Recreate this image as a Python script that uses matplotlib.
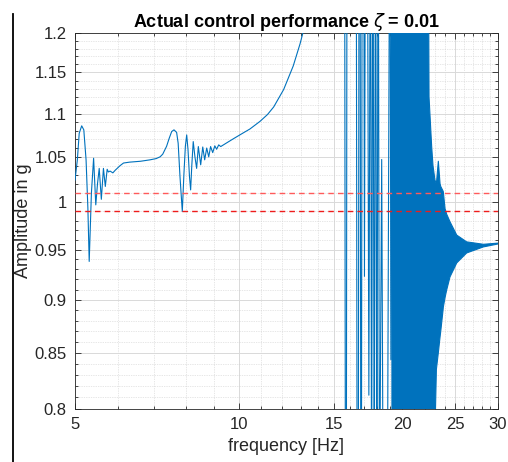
import numpy as np
import matplotlib
matplotlib.use("Agg")
import matplotlib.pyplot as plt
from matplotlib.ticker import NullFormatter
from matplotlib.lines import Line2D

plt.rcParams["font.family"] = ["Liberation Sans", "DejaVu Sans"]

# ── Data ─────────────────────────────────────────────────────────────────────
# measured response: smooth part + isolated spikes (values above 1.2 / below 0.8 are clipped)
freq = [5.00, 5.05, 5.09, 5.144, 5.19, 5.24, 5.28, 5.31, 5.36, 5.41,
        5.46, 5.50, 5.54, 5.59, 5.64, 5.685, 5.73, 5.76, 5.80, 5.87,
        5.93, 6.05, 6.14, 6.30, 6.60, 6.87, 7.05, 7.17, 7.25, 7.37,
        7.45, 7.53, 7.605, 7.69, 7.74, 7.80, 7.877, 7.93, 7.98, 8.025,
        8.07, 8.12, 8.16, 8.20, 8.25, 8.31, 8.37, 8.43, 8.515, 8.59,
        8.66, 8.735, 8.81, 8.88, 8.96, 9.04, 9.11, 9.19, 9.27, 9.51,
        9.80, 10.2, 10.49, 10.95, 11.30, 11.60, 12.10, 12.6, 12.97, 13.24,
        13.6, 14.5, 15.5, 15.66, 15.72, 15.78, 15.83, 16.45, 16.52, 16.60,
        16.66, 16.72, 16.78, 16.82, 16.88, 16.98, 17.04, 17.12, 17.24, 17.36,
        17.48, 17.56, 17.66, 17.76, 17.86, 17.96, 18.06, 18.16, 18.33, 18.45,
        18.75, 18.98, 19.06, 19.14, 19.18]
amp = [1.024, 1.0466, 1.077, 1.0857, 1.081, 1.0466, 0.994, 0.938, 1.010, 1.0484,
       0.997, 1.020, 1.037, 1.003, 1.037, 1.017, 1.036, 1.033, 1.034, 1.032,
       1.035, 1.040, 1.043, 1.044, 1.045, 1.0466, 1.048, 1.050, 1.053, 1.062,
       1.071, 1.079, 1.081, 1.078, 1.0655, 1.028, 0.9898, 1.030, 1.062, 1.0751,
       1.058, 1.028, 1.0132, 1.040, 1.0674, 1.050, 1.037, 1.0617, 1.041, 1.0612,
       1.0466, 1.060, 1.050, 1.0617, 1.0548, 1.0625, 1.0586, 1.0636, 1.0617, 1.0660,
       1.0710, 1.0775, 1.0820, 1.0910, 1.0990, 1.1080, 1.1290, 1.158, 1.186, 1.21,
       1.26, 1.40, 1.50, 1.50, 0.70, 0.70, 1.50, 1.50, 0.70, 0.70,
       1.50, 1.50, 0.70, 0.70, 1.50, 1.50, 0.923, 1.50, 1.50, 0.812,
       1.50, 0.70, 1.50, 0.70, 1.50, 0.70, 1.50, 0.70, 1.047, 0.70,
       0.65, 1.50, 0.8437, 1.50, 0.70]

# dense resonance band: upper / lower envelope of the oscillation
band_f  = [19.15, 19.48, 19.53, 19.58, 20.50, 21.50, 22.30, 22.40, 22.65, 22.78,
           22.97, 23.11, 23.30, 23.47, 23.54, 23.77, 23.80, 23.97, 24.14, 24.48,
           25.19, 26.27, 28.20, 30.00]
band_hi = [1.50, 1.50, 1.17, 1.50, 1.50, 1.50, 1.50, 1.12, 1.062, 1.040,
           1.024, 1.020, 1.045, 1.020, 1.017, 1.012, 1.011, 0.993, 0.987, 0.979,
           0.965, 0.958, 0.9555, 0.9567]
band_lo = [0.70, 0.70, 0.70, 0.70, 0.70, 0.70, 0.70, 0.70, 0.70, 0.70,
           0.78, 0.835, 0.850, 0.8646, 0.870, 0.890, 0.893, 0.902, 0.9096, 0.9225,
           0.9365, 0.9466, 0.9528, 0.9558]

upper_limit = 1.01
lower_limit = 0.99

x_major = [5, 10, 15, 20, 25, 30]
x_minor = [6, 7, 8, 9, 11, 12, 13, 14, 16, 17, 18, 19, 21, 22, 23, 24, 26, 27, 28, 29]
y_major = [0.8, 0.85, 0.9, 0.95, 1.0, 1.05, 1.1, 1.15, 1.2]
y_labels = ["0.8", "0.85", "0.9", "0.95", "1", "1.05", "1.1", "1.15", "1.2"]
y_minor = [v / 100 for v in range(81, 120) if v % 5 != 0]

BLUE = "#0072BD"
TXT = "#262626"

# ── Plot ─────────────────────────────────────────────────────────────────────
fig = plt.figure(figsize=(5.08, 4.62), dpi=100)
ax = fig.add_axes([75 / 508, 53 / 462, 423 / 508, 376 / 462])

ax.plot(freq, amp, color=BLUE, linewidth=0.8, zorder=3)
ax.fill_between(band_f, band_lo, band_hi, color=BLUE, linewidth=0.8, zorder=3)
ax.axhline(upper_limit, color="#ff5a5a", linestyle=(0, (4, 3)), linewidth=1.0, zorder=4)
ax.axhline(lower_limit, color="#ee1c1c", linestyle=(0, (4, 3)), linewidth=1.0, zorder=4)

ax.set_xscale("log")
ax.set_yscale("log")
ax.set_xlim(5, 30)
ax.set_ylim(0.8, 1.2)

ax.set_xticks(x_major)
ax.set_xticklabels([str(v) for v in x_major])
ax.set_xticks(x_minor, minor=True)
ax.xaxis.set_minor_formatter(NullFormatter())
ax.set_yticks(y_major)
ax.set_yticklabels(y_labels)
ax.set_yticks(y_minor, minor=True)
ax.yaxis.set_minor_formatter(NullFormatter())

ax.grid(which="major", color="#d9d9d9", linewidth=0.7, linestyle="-", zorder=0)
ax.grid(which="minor", color="#cfcfcf", linewidth=0.5, linestyle=(0, (1, 1.5)), zorder=0)
ax.set_axisbelow(True)

ax.tick_params(which="both", direction="in", top=True, right=True, color=TXT,
               labelcolor=TXT, labelsize=12, width=0.6)
ax.tick_params(which="major", length=4, pad=6)
ax.tick_params(which="minor", length=2)
for s in ax.spines.values():
    s.set_color(TXT)
    s.set_linewidth(0.6)

ax.set_title(r"Actual control performance $\zeta$ = 0.01", fontsize=13,
             fontweight="bold", pad=4)
ax.set_xlabel("frequency [Hz]", fontsize=13, color=TXT, labelpad=4)
ax.set_ylabel("Amplitude in g", fontsize=13, color=TXT, labelpad=2)

fig.add_artist(Line2D([12.5 / 508, 12.5 / 508], [0, 1 - 14 / 462],
                      color="black", linewidth=1.3))

fig.savefig("out.png", dpi=100)
